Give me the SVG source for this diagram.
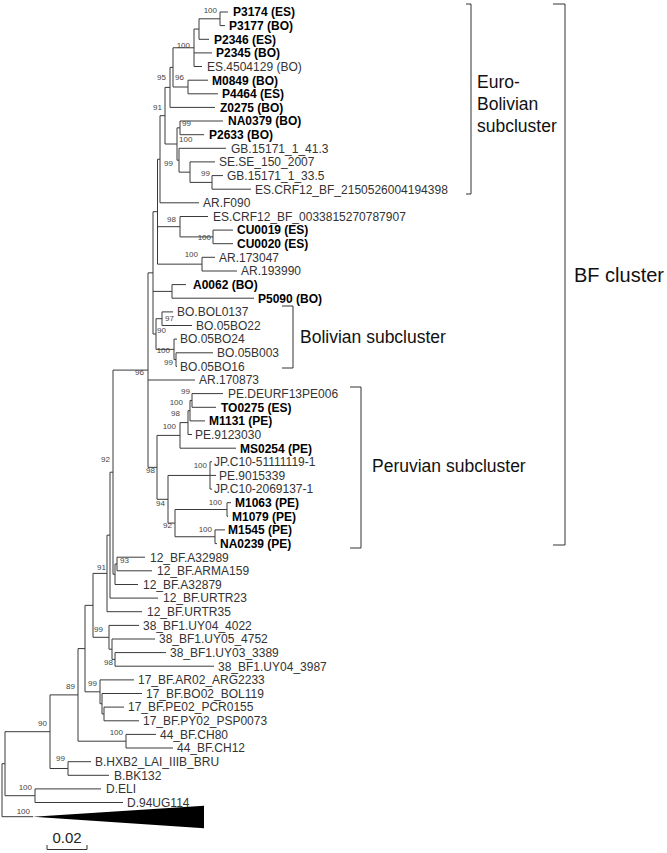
<svg xmlns="http://www.w3.org/2000/svg" width="667" height="853" viewBox="0 0 667 853">
<style>
.br{fill:none;stroke:#3a3a3a;stroke-width:1}
.lf{font-family:"Liberation Sans",Arial,sans-serif;font-size:12px;fill:#333}
.b{font-weight:bold;fill:#000}
.bs{font-family:"Liberation Sans",Arial,sans-serif;font-size:8px;fill:#444}
.e{text-anchor:end}
.cl{font-family:"Liberation Sans",Arial,sans-serif;font-size:17.5px;fill:#111}
.bk{fill:none;stroke:#333;stroke-width:1}
</style>
<rect width="667" height="853" fill="#fff"/>
<g id="connectors" class="br">
<path d="M220,12V25.6M220,12H228M220,25.6H225"/>
<path d="M199,18.8V39.3H209M199,18.8H220"/>
<path d="M194,29.05V66.5H202M194,29.05H199M194,52.9H212"/>
<path d="M188,80.2V93.8H218M188,80.2H208"/>
<path d="M173,47.78V87H188M173,47.78H194"/>
<path d="M170,67.39V107.4H215M170,67.39H173"/>
<path d="M180,121V134.7H204M180,121H223"/>
<path d="M212,175.6V189.2H251M212,175.6H223"/>
<path d="M190,161.9V182.4H212M190,161.9H215"/>
<path d="M179,148.3V172.15H190M179,148.3H226"/>
<path d="M177,127.85V160.2H179M177,127.85H180"/>
<path d="M165,87.4V144H177M165,87.4H170"/>
<path d="M160,115.7V202.8H199M160,115.7H165"/>
<path d="M213,230.1V243.7H233M213,230.1H233"/>
<path d="M180,216.5V236.9H213M180,216.5H208"/>
<path d="M202,257.3V271H237M202,257.3H215"/>
<path d="M157.5,159.25V264.15H202M157.5,159.25H160M157.5,226.7H180"/>
<path d="M172,284.6V298.2H254M172,284.6H186"/>
<path d="M162,311.9V325.5H192M162,311.9H173"/>
<path d="M176,352.8V366.4H177M176,352.8H213"/>
<path d="M174,339.1V359.6H176M174,339.1H177"/>
<path d="M156,318.7V349.35H174M156,318.7H162"/>
<path d="M153,211.7V334H156M153,211.7H157.5M153,291.4H172"/>
<path d="M192,393.6V407.3H216M192,393.6H223"/>
<path d="M190,400.45V420.9H205M190,400.45H192"/>
<path d="M188,410.7V434.5H192M188,410.7H190"/>
<path d="M180,422.6V448.2H236M180,422.6H188"/>
<path d="M210,461.8V489.1H212M210,461.8H212M210,475.4H216"/>
<path d="M227,502.7V516.3H228M227,502.7H231"/>
<path d="M215,529.9V543.6H217M215,529.9H225"/>
<path d="M175,509.5V536.75H215M175,509.5H227"/>
<path d="M168,475.45V523.1H175M168,475.45H210"/>
<path d="M157,435.4V499.3H168M157,435.4H180"/>
<path d="M148,272.85V467.35H157M148,272.85H153M148,380H195"/>
<path d="M117,557.2V570.8H152M117,557.2H145"/>
<path d="M115,564V584.5H138M115,564H117"/>
<path d="M113,370.1V574.25H115M113,370.1H148"/>
<path d="M110,472.2V598.1H158M110,472.2H113"/>
<path d="M107,535.15V611.7H142M107,535.15H110"/>
<path d="M115,652.6V666.2H214M115,652.6H166"/>
<path d="M112,639V659.4H115M112,639H155"/>
<path d="M109,625.4V649.2H112M109,625.4H139"/>
<path d="M93,573.4V637.3H109M93,573.4H107"/>
<path d="M104,707.1V720.8H139M104,707.1H124"/>
<path d="M102,693.5V713.95H104M102,693.5H142"/>
<path d="M100,679.9V703.7H102M100,679.9H134"/>
<path d="M85,605.35V691.8H100M85,605.35H93"/>
<path d="M126,734.4V748H173M126,734.4H156"/>
<path d="M78,648.6V741.2H126M78,648.6H85"/>
<path d="M68,761.7V775.3H109M68,761.7H91"/>
<path d="M50,694.9V768.5H68M50,694.9H78"/>
<path d="M35,788.9V802.5H123M35,788.9H101"/>
<path d="M5,731.7V795.7H35M5,731.7H50"/>
<path d="M2,763.7V816.7H33M2,763.7H5"/>
<polygon points="33,816.7 204,805.7 204,828.3" fill="#000" stroke="none"/>
</g>
<g id="leaves">
<g id="n0"><text class="lf b" x="233" y="16.3">P3174 (ES)</text></g>
<g id="n1"><text class="lf b" x="229" y="29.9">P3177 (BO)</text></g>
<g id="n2"><text class="lf b" x="214" y="43.6">P2346 (ES)</text></g>
<g id="n3"><text class="lf b" x="216" y="57.2">P2345 (BO)</text></g>
<g id="n4"><text class="lf" x="207" y="70.8">ES.4504129 (BO)</text></g>
<g id="n5"><text class="lf b" x="212" y="84.5">M0849 (BO)</text></g>
<g id="n6"><text class="lf b" x="222" y="98.1">P4464 (ES)</text></g>
<g id="n7"><text class="lf b" x="220" y="111.7">Z0275 (BO)</text></g>
<g id="n8"><text class="lf b" x="228" y="125.3">NA0379 (BO)</text></g>
<g id="n9"><text class="lf b" x="209" y="139">P2633 (BO)</text></g>
<g id="n10"><text class="lf" x="231" y="152.6">GB.15171_1_41.3</text></g>
<g id="n11"><text class="lf" x="219" y="166.2">SE.SE_150_2007</text></g>
<g id="n12"><text class="lf" x="227" y="179.9">GB.15171_1_33.5</text></g>
<g id="n13"><text class="lf" x="255" y="193.5">ES.CRF12_BF_2150526004194398</text></g>
<g id="n14"><text class="lf" x="203" y="207.1">AR.F090</text></g>
<g id="n15"><text class="lf" x="213" y="220.8">ES.CRF12_BF_0033815270787907</text></g>
<g id="n16"><text class="lf b" x="237" y="234.4">CU0019 (ES)</text></g>
<g id="n17"><text class="lf b" x="237" y="248">CU0020 (ES)</text></g>
<g id="n18"><text class="lf" x="219" y="261.6">AR.173047</text></g>
<g id="n19"><text class="lf" x="241" y="275.3">AR.193990</text></g>
<g id="n20"><text class="lf b" x="193" y="288.9">A0062 (BO)</text></g>
<g id="n21"><text class="lf b" x="258" y="302.5">P5090 (BO)</text></g>
<g id="n22"><text class="lf" x="177" y="316.2">BO.BOL0137</text></g>
<g id="n23"><text class="lf" x="196" y="329.8">BO.05BO22</text></g>
<g id="n24"><text class="lf" x="180" y="343.4">BO.05BO24</text></g>
<g id="n25"><text class="lf" x="217" y="357.1">BO.05B003</text></g>
<g id="n26"><text class="lf" x="180" y="370.7">BO.05BO16</text></g>
<g id="n27"><text class="lf" x="199" y="384.3">AR.170873</text></g>
<g id="n28"><text class="lf" x="228" y="397.9">PE.DEURF13PE006</text></g>
<g id="n29"><text class="lf b" x="221" y="411.6">TO0275 (ES)</text></g>
<g id="n30"><text class="lf b" x="209" y="425.2">M1131 (PE)</text></g>
<g id="n31"><text class="lf" x="195" y="438.8">PE.9123030</text></g>
<g id="n32"><text class="lf b" x="240" y="452.5">MS0254 (PE)</text></g>
<g id="n33"><text class="lf" x="214" y="466.1">JP.C10-51111119-1</text></g>
<g id="n34"><text class="lf" x="219" y="479.7">PE.9015339</text></g>
<g id="n35"><text class="lf" x="214" y="493.4">JP.C10-2069137-1</text></g>
<g id="n36"><text class="lf b" x="235" y="507">M1063 (PE)</text></g>
<g id="n37"><text class="lf b" x="232" y="520.6">M1079 (PE)</text></g>
<g id="n38"><text class="lf b" x="228" y="534.2">M1545 (PE)</text></g>
<g id="n39"><text class="lf b" x="220" y="547.9">NA0239 (PE)</text></g>
<g id="n40"><text class="lf" x="150" y="561.5">12_BF.A32989</text></g>
<g id="n41"><text class="lf" x="157" y="575.1">12_BF.ARMA159</text></g>
<g id="n42"><text class="lf" x="143" y="588.8">12_BF.A32879</text></g>
<g id="n43"><text class="lf" x="163" y="602.4">12_BF.URTR23</text></g>
<g id="n44"><text class="lf" x="147" y="616">12_BF.URTR35</text></g>
<g id="n45"><text class="lf" x="143" y="629.7">38_BF1.UY04_4022</text></g>
<g id="n46"><text class="lf" x="159" y="643.3">38_BF1.UY05_4752</text></g>
<g id="n47"><text class="lf" x="170" y="656.9">38_BF1.UY03_3389</text></g>
<g id="n48"><text class="lf" x="218" y="670.5">38_BF1.UY04_3987</text></g>
<g id="n49"><text class="lf" x="138" y="684.2">17_BF.AR02_ARG2233</text></g>
<g id="n50"><text class="lf" x="146" y="697.8">17_BF.BO02_BOL119</text></g>
<g id="n51"><text class="lf" x="128" y="711.4">17_BF.PE02_PCR0155</text></g>
<g id="n52"><text class="lf" x="143" y="725.1">17_BF.PY02_PSP0073</text></g>
<g id="n53"><text class="lf" x="160" y="738.7">44_BF.CH80</text></g>
<g id="n54"><text class="lf" x="177" y="752.3">44_BF.CH12</text></g>
<g id="n55"><text class="lf" x="95" y="766">B.HXB2_LAI_IIIB_BRU</text></g>
<g id="n56"><text class="lf" x="114" y="779.6">B.BK132</text></g>
<g id="n57"><text class="lf" x="106" y="793.2">D.ELI</text></g>
<g id="n58"><text class="lf" x="127" y="806.8">D.94UG114</text></g>
</g>
<g id="bootstrap" class="bs">
<text class="e" x="217" y="13">100</text>
<text class="e" x="190" y="48">100</text>
<text class="e" x="166" y="80">95</text>
<text class="e" x="184" y="80">96</text>
<text class="e" x="162" y="110">91</text>
<text x="182" y="126">99</text>
<text x="179" y="142">100</text>
<text class="e" x="173" y="166">99</text>
<text x="201" y="176">99</text>
<text class="e" x="176" y="222">98</text>
<text class="e" x="211" y="240">100</text>
<text class="e" x="198" y="257">100</text>
<text x="165" y="321">97</text>
<text x="157" y="333">90</text>
<text class="e" x="170" y="353">100</text>
<text class="e" x="173" y="365">99</text>
<text class="e" x="144" y="375">96</text>
<text class="e" x="190" y="394">99</text>
<text class="e" x="183" y="405">100</text>
<text class="e" x="180" y="416">98</text>
<text class="e" x="176" y="429">100</text>
<text class="e" x="155" y="473">98</text>
<text class="e" x="207" y="468">100</text>
<text class="e" x="165" y="506">94</text>
<text class="e" x="222" y="505">100</text>
<text class="e" x="172" y="528">92</text>
<text class="e" x="212" y="532">100</text>
<text class="e" x="110" y="462">92</text>
<text x="120" y="563">93</text>
<text class="e" x="106" y="570">91</text>
<text class="e" x="103" y="632">99</text>
<text class="e" x="113" y="665">98</text>
<text class="e" x="97" y="686">99</text>
<text class="e" x="75" y="689">89</text>
<text class="e" x="123" y="735">100</text>
<text class="e" x="47" y="726">90</text>
<text class="e" x="65" y="761">99</text>
<text class="e" x="32" y="790">100</text>
<text class="e" x="30" y="814">100</text>
</g>
<g id="clusters">
<path class="bk" d="M466,4H471V194H466"/>
<text class="cl" x="477" y="88">Euro-</text>
<text class="cl" x="477" y="110">Bolivian</text>
<text class="cl" x="477" y="132">subcluster</text>
<path class="bk" d="M282,306H293V368H282"/>
<text class="cl" x="300" y="343">Bolivian subcluster</text>
<path class="bk" d="M350,387H361V548H350"/>
<text class="cl" x="372" y="472">Peruvian subcluster</text>
<path class="bk" d="M553,4H565V545H553"/>
<text class="cl" x="574" y="282" style="font-size:20px">BF cluster</text>
</g>
<g id="scale">
<text x="67" y="843" text-anchor="middle" style="font-family:'Liberation Sans',Arial,sans-serif;font-size:15px;fill:#222">0.02</text>
<path class="bk" d="M47,845V849.5H87V845"/>
</g>
</svg>
